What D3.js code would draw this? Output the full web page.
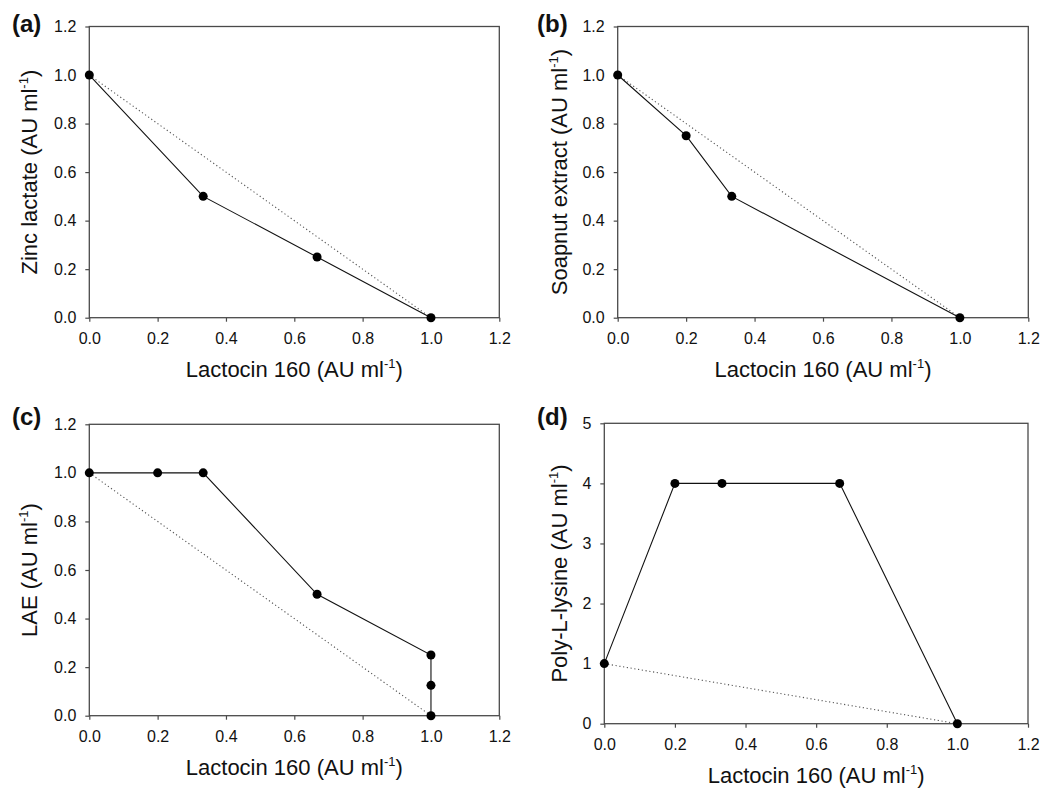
<!DOCTYPE html>
<html><head><meta charset="utf-8">
<script src="https://cdn.jsdelivr.net/npm/d3@7"></script>
<style>body{margin:0;background:#fff} text{font-family:"Liberation Sans",Arial,Helvetica,sans-serif;fill:#111}</style>
</head><body><svg id="chart" width="1050" height="795"></svg>
<script>
// ---- data ----
const panelLabels = ["(a)", "(b)", "(c)", "(d)"];
const yTitles = ["Zinc lactate", "Soapnut extract", "LAE", "Poly-L-lysine"];
const xTitle = "Lactocin 160";
const unitMain = "(AU ml";
const unitSup = "-1";
const unitClose = ")";
const xTickValues = [0, 0.2, 0.4, 0.6, 0.8, 1.0, 1.2];
const yTickValuesFrac = [0, 0.2, 0.4, 0.6, 0.8, 1.0, 1.2];
const yTickValuesInt = [0, 1, 2, 3, 4, 5];
const yMaxes = [1.2, 1.2, 1.2, 5];

const zincX = [0, 1/3, 2/3, 1];
const zincY = [1, 0.5, 0.25, 0];
const soapX = [0, 0.2, 1/3, 1];
const soapY = [1, 0.75, 0.5, 0];
const laeX = [0, 0.2, 1/3, 2/3, 1, 1, 1];
const laeY = [1, 1, 1, 0.5, 0.25, 0.125, 0];
const plX = [0, 0.2, 1/3, 2/3, 1];
const plY = [1, 4, 4, 4, 0];
const additiveX = [0, 1];
const additiveY = [1, 0];

// ---- layout ----
const boxes = [
  {l: 89.3, r: 499.3, t: 26.5, b: 317.7, ytx: 37, lx: 12, ly: 32},
  {l: 617.7, r: 1028.3, t: 26.5, b: 317.7, ytx: 567, lx: 537, ly: 32},
  {l: 89.3, r: 499.3, t: 424.3, b: 715.7, ytx: 37, lx: 12, ly: 425},
  {l: 604.3, r: 1028, t: 423.3, b: 723.7, ytx: 567, lx: 537, ly: 425}
];
const seriesX = [zincX, soapX, laeX, plX];
const seriesY = [zincY, soapY, laeY, plY];
const yTicksList = [yTickValuesFrac, yTickValuesFrac, yTickValuesFrac, yTickValuesInt];
const yFormats = [d3.format(".1f"), d3.format(".1f"), d3.format(".1f"), d3.format("d")];

const svg = d3.select("#chart");
const frameColor = "#4a4a4a";

boxes.forEach((bx, i) => {
  const x = d3.scaleLinear().domain([0, 1.2]).range([bx.l, bx.r]);
  const y = d3.scaleLinear().domain([0, yMaxes[i]]).range([bx.b, bx.t]);
  const g = svg.append("g");

  // axes
  const xa = g.append("g").attr("transform", `translate(0,${bx.b})`)
    .call(d3.axisBottom(x).tickValues(xTickValues).tickFormat(d3.format(".1f")).tickSize(4).tickPadding(11));
  const ya = g.append("g").attr("transform", `translate(${bx.l},0)`)
    .call(d3.axisLeft(y).tickValues(yTicksList[i]).tickFormat(yFormats[i]).tickSize(4).tickPadding(9));
  [xa, ya].forEach(a => {
    a.select(".domain").remove();
    a.selectAll("line").attr("stroke", frameColor).attr("stroke-width", 1.2);
    a.selectAll("text").attr("font-size", 16).attr("font-family", '"Liberation Sans",Arial,sans-serif').attr("fill", "#111");
  });

  // frame
  g.append("rect").attr("x", bx.l).attr("y", bx.t).attr("width", bx.r - bx.l).attr("height", bx.b - bx.t)
    .attr("fill", "none").attr("stroke", frameColor).attr("stroke-width", 1.3);

  // additive (dotted) line
  const line = d3.line().x(d => x(d[0])).y(d => y(d[1]));
  const addPts = additiveX.map((v, k) => [v, additiveY[k]]);
  g.append("path").attr("d", line(addPts)).attr("fill", "none")
    .attr("stroke", "#555").attr("stroke-width", 1.1).attr("stroke-dasharray", "1.2,2.6");

  // observed line
  const pts = seriesX[i].map((v, k) => [v, seriesY[i][k]]);
  g.append("path").attr("d", line(pts)).attr("fill", "none").attr("stroke", "#111").attr("stroke-width", 1.1);
  g.selectAll("circle.pt").data(pts).join("circle").attr("class", "pt")
    .attr("cx", d => x(d[0])).attr("cy", d => y(d[1])).attr("r", 4.5).attr("fill", "#000");

  // x title
  const xt = g.append("text").attr("x", (bx.l + bx.r) / 2).attr("y", bx.b + 59)
    .attr("text-anchor", "middle").attr("font-size", 22);
  xt.append("tspan").text(xTitle + " " + unitMain);
  xt.append("tspan").attr("font-size", 13).attr("dy", -9).text(unitSup);
  xt.append("tspan").attr("dy", 9).text(unitClose);

  // y title
  const yt = g.append("text")
    .attr("transform", `translate(${bx.ytx},${(bx.t + bx.b) / 2}) rotate(-90)`)
    .attr("text-anchor", "middle").attr("font-size", 22);
  yt.append("tspan").text(yTitles[i] + " " + unitMain);
  yt.append("tspan").attr("font-size", 13).attr("dy", -9).text(unitSup);
  yt.append("tspan").attr("dy", 9).text(unitClose);

  // panel label
  g.append("text").attr("x", bx.lx).attr("y", bx.ly).attr("font-size", 24).attr("font-weight", "bold")
    .text(panelLabels[i]);
});
</script></body></html>
